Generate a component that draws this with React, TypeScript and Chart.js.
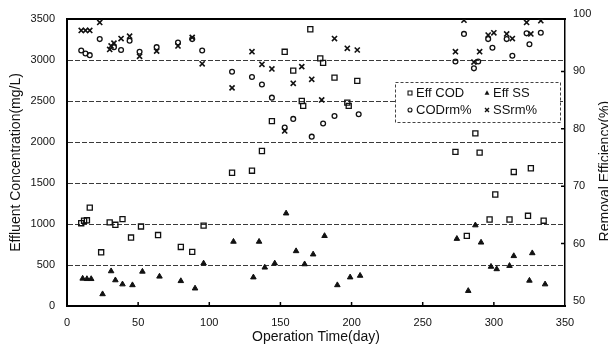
import { useEffect, useRef } from "react";
import { Chart, registerables } from "chart.js";

Chart.register(...registerables);

// Effluent COD (mg/L) by operation day
const codDays = [10, 12, 14, 16, 24, 30, 34, 39, 45, 52, 64, 80, 88, 96, 116, 130, 137, 144, 153, 159, 165, 166, 171, 178, 180, 188, 197, 198, 204, 273, 281, 287, 290, 297, 301, 311, 314, 324, 326, 335];
const codValues = [1010, 1040, 1045, 1200, 655, 1020, 990, 1060, 835, 970, 865, 720, 660, 980, 1625, 1650, 1890, 2255, 3100, 2870, 2500, 2440, 3375, 3020, 2965, 2785, 2480, 2440, 2745, 1880, 855, 2105, 1870, 1055, 1360, 1055, 1635, 1100, 1680, 1040];

// Effluent SS (mg/L)
const ssDays = [11, 14, 17, 25, 31, 34, 39, 46, 53, 65, 80, 90, 96, 117, 131, 135, 139, 146, 154, 161, 167, 173, 181, 190, 199, 206, 274, 282, 287, 291, 298, 302, 311, 314, 325, 327, 336];
const ssValues = [335, 330, 330, 145, 425, 315, 265, 255, 420, 360, 305, 215, 520, 785, 350, 785, 470, 520, 1130, 670, 510, 630, 855, 255, 350, 370, 820, 185, 985, 775, 480, 450, 490, 610, 310, 645, 265];

// COD removal (%)
const codRmDays = [10, 13, 16, 23, 33, 38, 44, 51, 63, 78, 88, 95, 116, 130, 137, 144, 153, 159, 172, 180, 188, 205, 273, 279, 286, 289, 296, 299, 309, 313, 323, 325, 333];
const codRmValues = [94.5, 94.0, 93.7, 96.5, 95.1, 94.6, 96.2, 94.3, 95.1, 95.9, 96.5, 94.5, 90.8, 89.9, 88.6, 86.3, 81.1, 82.6, 79.5, 81.8, 83.1, 83.4, 92.6, 97.4, 91.4, 92.6, 96.5, 95.0, 96.5, 93.6, 97.5, 95.6, 97.6];

// SS removal (%)
const ssRmDays = [10, 13, 16, 23, 30, 31, 33, 38, 44, 51, 63, 78, 88, 95, 116, 130, 137, 144, 153, 159, 165, 172, 179, 188, 197, 204, 273, 279, 286, 290, 296, 300, 309, 313, 323, 326, 333];
const ssRmValues = [98.0, 98.0, 98.0, 99.4, 94.7, 95.3, 95.8, 96.6, 97.0, 93.5, 94.4, 95.3, 96.8, 92.2, 88.0, 94.3, 92.1, 91.3, 80.5, 88.8, 91.7, 89.5, 85.9, 96.6, 94.9, 94.6, 94.3, 99.8, 92.5, 94.3, 97.2, 97.6, 97.4, 96.6, 99.4, 97.4, 99.7];

// Axis ticks
const dayTicks = [0, 50, 100, 150, 200, 250, 300, 350];
const concTicks = [0, 500, 1000, 1500, 2000, 2500, 3000, 3500];
const effTicks = [50, 60, 70, 80, 90, 100];

const FONT = "'Liberation Sans', Arial, Helvetica, sans-serif";
const INK = "#111";
const RIGHT_LABEL_SHIFT = -5;

const pairs = (xs: number[], ys: number[]) => xs.map((x, i) => ({ x, y: ys[i] }));
const plain = (v: number | string) => String(v);

function drawMarker(ctx: CanvasRenderingContext2D, style: string, x: number, y: number, r: number) {
  ctx.beginPath();
  if (style === "rect") {
    const s = r * Math.SQRT1_2;
    ctx.rect(x - s, y - s, 2 * s, 2 * s);
    ctx.stroke();
  } else if (style === "triangle") {
    ctx.moveTo(x, y - r);
    ctx.lineTo(x + r * 0.87, y + r * 0.6);
    ctx.lineTo(x - r * 0.87, y + r * 0.6);
    ctx.closePath();
    ctx.fill();
  } else if (style === "circle") {
    ctx.arc(x, y, r, 0, Math.PI * 2);
    ctx.stroke();
  } else {
    const s = r * Math.SQRT1_2;
    ctx.moveTo(x - s, y - s);
    ctx.lineTo(x + s, y + s);
    ctx.moveTo(x + s, y - s);
    ctx.lineTo(x - s, y + s);
    ctx.stroke();
  }
}

const decorations = {
  id: "decorations",
  beforeDatasetsDraw(chart: any) {
    const { ctx, chartArea: a, scales } = chart;
    ctx.save();
    ctx.strokeStyle = "#000";
    ctx.lineWidth = 2;
    ctx.beginPath();
    ctx.moveTo(a.left - 1, a.top);
    ctx.lineTo(a.right + 1, a.top);
    ctx.stroke();
    ctx.lineWidth = 1.5;
    ctx.beginPath();
    dayTicks.forEach((v) => {
      if (v <= 0 || v >= 350) return;
      const px = scales.x.getPixelForValue(v);
      ctx.moveTo(px, a.bottom);
      ctx.lineTo(px, a.bottom - 4);
    });
    effTicks.forEach((v) => {
      if (v <= 50 || v >= 100) return;
      const py = scales.y1.getPixelForValue(v) + RIGHT_LABEL_SHIFT;
      ctx.moveTo(a.right, py);
      ctx.lineTo(a.right - 4, py);
    });
    ctx.stroke();
    ctx.restore();
  },
  afterDatasetsDraw(chart: any) {
    const { ctx } = chart;
    const box = { left: 395, top: 82, width: 165, height: 40 };
    ctx.save();
    ctx.fillStyle = "#fff";
    ctx.fillRect(box.left, box.top, box.width, box.height);
    ctx.strokeStyle = "#444";
    ctx.lineWidth = 1;
    ctx.setLineDash([3, 2]);
    ctx.strokeRect(box.left + 0.5, box.top + 0.5, box.width, box.height);
    ctx.setLineDash([]);
    const cols = [410, 487];
    const rows = [93, 110];
    ctx.font = `13px ${FONT}`;
    ctx.textBaseline = "middle";
    chart.data.datasets.forEach((ds: any, i: number) => {
      const cx = cols[i % 2];
      const cy = rows[Math.floor(i / 2)];
      ctx.strokeStyle = INK;
      ctx.fillStyle = INK;
      ctx.lineWidth = ds.pointStyle === "crossRot" ? 1.4 : 1.1;
      drawMarker(ctx, ds.pointStyle, cx, cy, ds.pointStyle === "circle" ? 2 : 2.8);
      ctx.fillStyle = INK;
      ctx.fillText(ds.label, cx + 6, cy + 0.5);
    });
    ctx.restore();
  },
  afterDraw(chart: any) {
    const { ctx, scales } = chart;
    ctx.save();
    ctx.translate(609, scales.y1.getPixelForValue(73.5));
    ctx.rotate(-Math.PI / 2);
    ctx.font = `14px ${FONT}`;
    ctx.fillStyle = INK;
    ctx.textAlign = "center";
    ctx.textBaseline = "alphabetic";
    ctx.fillText("Removal Efficiency(%)", 0, 0);
    ctx.restore();
  },
};

export default function App() {
  const canvasRef = useRef<HTMLCanvasElement | null>(null);

  useEffect(() => {
    const canvas = canvasRef.current;
    if (!canvas) return;
    const marker = {
      borderColor: INK,
      backgroundColor: "rgba(0,0,0,0)",
      showLine: false,
    };
    const chart = new Chart(canvas, {
      type: "scatter",
      data: {
        datasets: [
          { ...marker, label: "Eff COD", data: pairs(codDays, codValues), yAxisID: "y", pointStyle: "rect", pointRadius: 3.6, pointBorderWidth: 1.3 },
          { ...marker, label: "Eff SS", data: pairs(ssDays, ssValues), yAxisID: "y", pointStyle: "triangle", pointRadius: 3.2, pointBorderWidth: 1, backgroundColor: INK },
          { ...marker, label: "CODrm%", data: pairs(codRmDays, codRmValues), yAxisID: "y1", pointStyle: "circle", pointRadius: 2.4, pointBorderWidth: 1.3 },
          { ...marker, label: "SSrm%", data: pairs(ssRmDays, ssRmValues), yAxisID: "y1", pointStyle: "crossRot", pointRadius: 3.6, pointBorderWidth: 1.6 },
        ],
      },
      options: {
        responsive: false,
        animation: false,
        events: [],
        layout: { padding: { top: 19, left: 0, right: 0, bottom: 0 } },
        plugins: { legend: { display: false }, tooltip: { enabled: false } },
        scales: {
          x: {
            type: "linear",
            min: 0,
            max: 350,
            afterBuildTicks: (s: any) => { s.ticks = dayTicks.map((value) => ({ value })); },
            afterFit: (s: any) => { s.height = 41; },
            grid: { display: false, drawTicks: false },
            border: { display: true, color: "#000", width: 2 },
            ticks: { color: INK, padding: 10, maxRotation: 0, callback: plain, font: { family: FONT, size: 11 } },
            title: { display: true, text: "Operation Time(day)", color: INK, padding: { top: 0, bottom: 1 }, font: { family: FONT, size: 14 } },
          },
          y: {
            type: "linear",
            position: "left",
            min: 0,
            max: 3500,
            afterBuildTicks: (s: any) => { s.ticks = concTicks.map((value) => ({ value })); },
            afterFit: (s: any) => { s.width = 67; },
            grid: {
              drawTicks: false,
              color: (c: any) => (c.tick && (c.tick.value === 0 || c.tick.value === 3500) ? "rgba(0,0,0,0)" : "#3a3a3a"),
              lineWidth: 1,
            },
            border: { display: true, color: "#000", width: 2, dash: [5, 2] },
            ticks: { color: INK, padding: 12, callback: plain, font: { family: FONT, size: 11 } },
            title: { display: true, text: "Effluent Concentration(mg/L)", color: INK, padding: { top: 8, bottom: 0 }, font: { family: FONT, size: 14 } },
          },
          y1: {
            type: "linear",
            position: "right",
            min: 50,
            max: 100,
            afterBuildTicks: (s: any) => { s.ticks = effTicks.map((value) => ({ value })); },
            afterFit: (s: any) => { s.width = 43; },
            grid: { display: false, drawTicks: false },
            border: { display: true, color: "#000", width: 1.5 },
            ticks: { color: INK, padding: 8, labelOffset: RIGHT_LABEL_SHIFT, callback: plain, font: { family: FONT, size: 11 } },
          },
        },
      },
      plugins: [decorations],
    });
    return () => chart.destroy();
  }, []);

  return (
    <div style={{ position: "fixed", left: 0, top: 0, width: 608, height: 347, background: "#fff" }}>
      <canvas ref={canvasRef} width={608} height={347} style={{ display: "block" }} />
    </div>
  );
}
